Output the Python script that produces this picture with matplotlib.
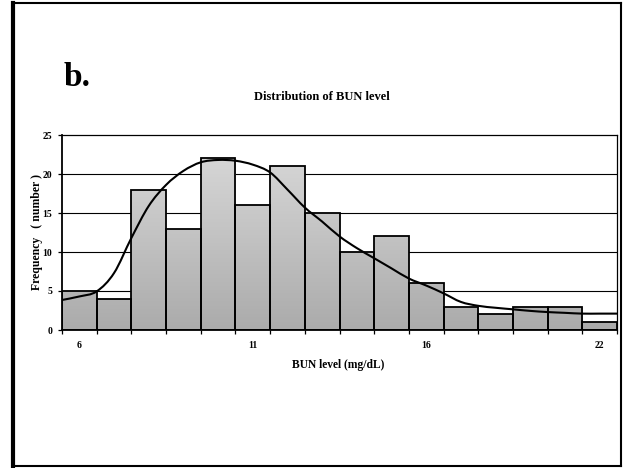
import numpy as np
import matplotlib.pyplot as plt
from matplotlib.colors import LinearSegmentedColormap
from matplotlib.lines import Line2D
from matplotlib.path import Path
from matplotlib.patches import PathPatch

# BUN level categories (mg/dL) and counts per category
bun_levels = [6, 7, 8, 9, 10, 11, 12, 13, 14, 15, 16, 17, 18, 19, 20, 22]
frequency = [5, 4, 18, 13, 22, 16, 21, 15, 10, 12, 6, 3, 2, 3, 3, 1]
labelled = [6, 11, 16, 22]

# smoothed trend line, read at every half category
curve_vals = [3.85, 4.3, 4.95, 7.3, 11.8, 15.9, 18.6, 20.4, 21.5, 21.8, 21.7,
              21.2, 20.2, 18.0, 15.7, 13.9, 12.0, 10.5, 9.2, 7.9, 6.6, 5.7,
              4.7, 3.6, 3.1, 2.85, 2.65, 2.45, 2.3, 2.2, 2.1, 2.1, 2.1]

serif = 'Liberation Serif'

fig = plt.figure(figsize=(6.27, 4.68), dpi=100)
ax = fig.add_axes([62/627, 1-330/468, 555/627, 195/468])

x = np.arange(len(bun_levels))

# gridlines behind bars
for g in [5, 10, 15, 20]:
    ax.axhline(g, color='black', lw=0.8, zorder=1)

bars = ax.bar(x, frequency, width=1.0, facecolor='none', edgecolor='black',
              linewidth=1.3, zorder=3)

# grey shading, lighter at top darker at bottom
cmap = LinearSegmentedColormap.from_list('shade', ['#ababab', '#c6c6c6', '#e0e0e0'])
grad = np.linspace(0, 1, 256).reshape(-1, 1)
for b in bars:
    im = ax.imshow(grad, extent=(b.get_x(), b.get_x() + b.get_width(), 0, 25),
                   origin='lower', cmap=cmap, aspect='auto', zorder=2,
                   vmin=0, vmax=1.1)
    im.set_clip_path(b)
ax.set_xlim(-0.5, len(bun_levels) - 0.5)
ax.set_ylim(0, 25)

# smoothed line (Catmull-Rom style bezier through the read points)
pts = np.column_stack([np.arange(len(curve_vals)) * 0.5 - 0.5, curve_vals])
verts = [pts[0]]
codes = [Path.MOVETO]
for i in range(len(pts) - 1):
    p0 = pts[max(i - 1, 0)]
    p1 = pts[i]
    p2 = pts[i + 1]
    p3 = pts[min(i + 2, len(pts) - 1)]
    verts += [p1 + (p2 - p0) / 6, p2 - (p3 - p1) / 6, p2]
    codes += [Path.CURVE4] * 3
ax.add_patch(PathPatch(Path(verts, codes), facecolor='none', edgecolor='black',
                       lw=1.5, zorder=4))

for s in ax.spines.values():
    s.set_linewidth(0.9)
    s.set_zorder(5)
ax.spines['left'].set_linewidth(1.3)
ax.spines['bottom'].set_linewidth(1.3)

ax.set_yticks([0, 5, 10, 15, 20, 25])
ax.tick_params(axis='y', length=3, width=0.9, pad=4)
ax.set_xticks(np.arange(len(bun_levels) + 1) - 0.5)
ax.set_xticklabels([])
ax.set_xticks([bun_levels.index(v) for v in labelled], minor=True)
ax.set_xticklabels([str(v) for v in labelled], minor=True)
ax.tick_params(axis='x', which='major', length=3, width=0.9)
ax.tick_params(axis='x', which='minor', length=0, pad=8)
for lab in ax.get_yticklabels() + ax.get_xticklabels(minor=True):
    lab.set_fontfamily(serif)
    lab.set_fontweight('bold')
    lab.set_fontsize(7)

fig.text(64/627, 1-86/468, 'b.', fontfamily=serif, fontweight='bold',
         fontsize=24, ha='left', va='baseline')
fig.text(322/627, 1-97/468, 'Distribution of BUN level', fontfamily=serif,
         fontweight='bold', fontsize=9, ha='center', va='center')
fig.text(338/627, 1-365/468, 'BUN level (mg/dL)', fontfamily=serif,
         fontweight='bold', fontsize=8.3, ha='center', va='center')
fig.text(37/627, 1-232/468, 'Frequency   ( number )', fontfamily=serif,
         fontweight='bold', fontsize=8.5, ha='center', va='center', rotation=90)

# outer frame of the figure panel
fig.add_artist(Line2D([13/627, 13/627], [2/468, 1-3/468], color='black', lw=3))
fig.add_artist(Line2D([13/627, 621/627], [1-3/468, 1-3/468], color='black', lw=1.5))
fig.add_artist(Line2D([621/627, 621/627], [2/468, 1-3/468], color='black', lw=1.5))
fig.add_artist(Line2D([13/627, 621/627], [2/468, 2/468], color='black', lw=1.5))

fig.savefig('out.png', dpi=100)
